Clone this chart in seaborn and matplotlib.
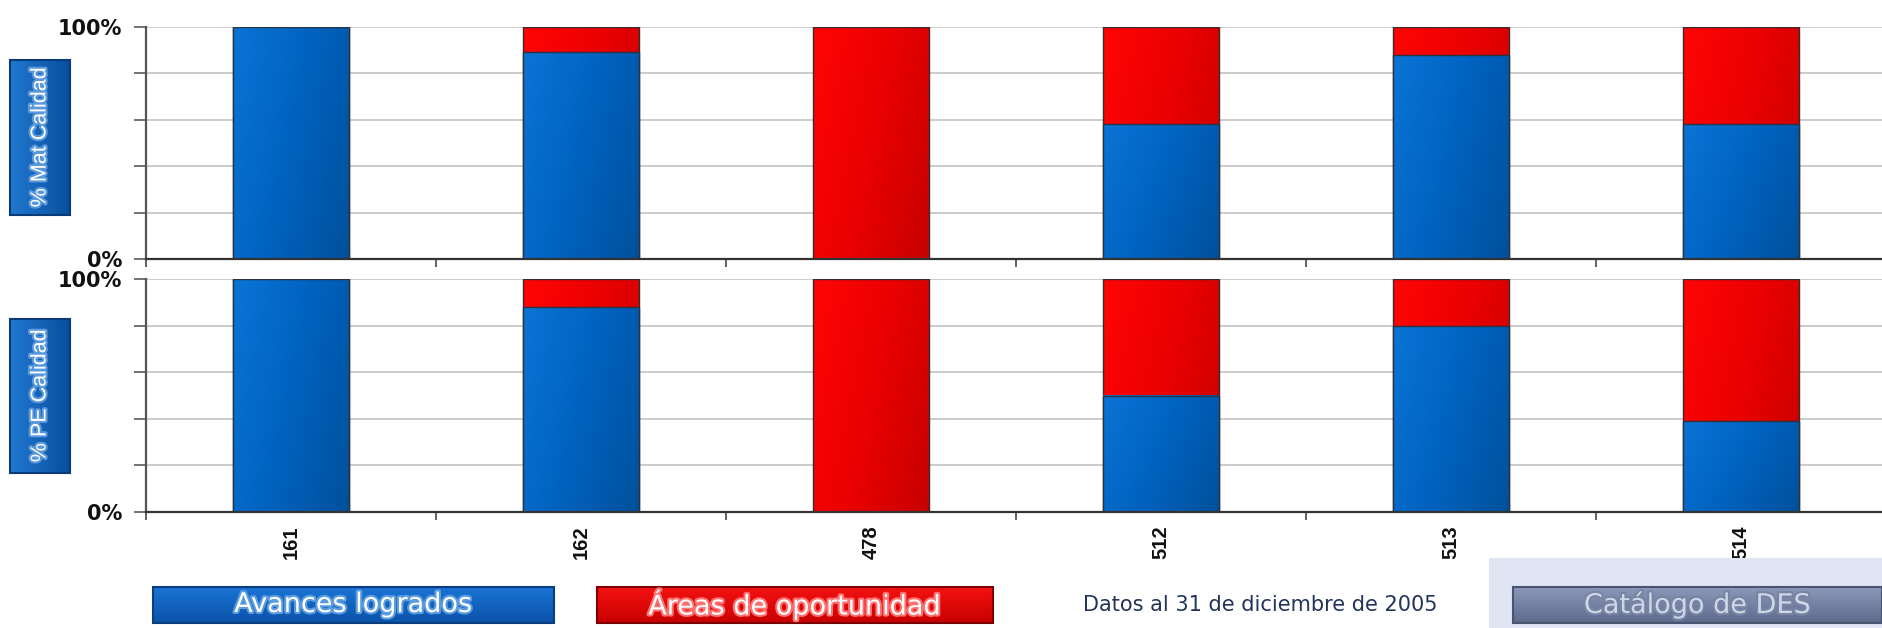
import numpy as np
import matplotlib
matplotlib.use("Agg")
import matplotlib.pyplot as plt
import seaborn as sns
from matplotlib.colors import LinearSegmentedColormap
from matplotlib.patches import Rectangle
from matplotlib import font_manager
import matplotlib.patheffects as pe

# ---------------- data ----------------
categories = ["161", "162", "478", "512", "513", "514"]
mat_avances = [100, 89, 0, 58, 88, 58]
mat_oportunidad = [0, 11, 100, 42, 12, 42]
pe_avances = [100, 88, 0, 50, 80, 39]
pe_oportunidad = [0, 12, 100, 50, 20, 61]
panel_labels = ["% Mat Calidad", "% PE Calidad"]
legend_labels = ["Avances logrados", "Áreas de oportunidad"]
y_tick_values = [0, 20, 40, 60, 80, 100]
y_tick_labels = ["0%", "", "", "", "", "100%"]
note_text = "Datos al 31 de diciembre de 2005"
button_text = "Catálogo de DES"

# ---------------- style ----------------
sns.set_theme(style="white")
plt.rcParams["font.family"] = ["DejaVu Sans"]

names = {f.name for f in font_manager.fontManager.ttflist}
narrow = "Liberation Sans Narrow" if "Liberation Sans Narrow" in names else "Liberation Sans"
narrow_size = 19 if narrow == "Liberation Sans Narrow" else 15.5

W, H = 1882, 628
fig = plt.figure(figsize=(W / 100, H / 100), dpi=100)
fig.patch.set_facecolor("white")


def frac(x0, y0, x1, y1):
    return [x0 / W, 1 - y1 / H, (x1 - x0) / W, (y1 - y0) / H]


blue_cmap = LinearSegmentedColormap.from_list("b", ["#0a74d6", "#0062bf", "#00519c"])
red_cmap = LinearSegmentedColormap.from_list("r", ["#ff0505", "#ea0000", "#c80000"])

xx, yy = np.meshgrid(np.linspace(0, 1, 64), np.linspace(0, 1, 64))
grad = 0.7 * xx + 0.3 * (1 - yy)


def shade(ax, patches, cmap, z):
    for p in patches:
        h = p.get_height()
        if h <= 0:
            p.set_visible(False)
            continue
        x0, y0, w = p.get_x(), p.get_y(), p.get_width()
        im = ax.imshow(grad, extent=[x0, x0 + w, y0, y0 + h], origin="lower",
                       cmap=cmap, aspect="auto", vmin=0, vmax=1, zorder=z)
        im.set_clip_path(p)
        p.set_facecolor("none")
        p.set_zorder(z + 0.05)


panels = [(mat_avances, mat_oportunidad), (pe_avances, pe_oportunidad)]
boxes = [(26.7, 259.0), (279.3, 511.7)]
x_left, x_right = 146, 1886

for i, ((av, op), (ytop, ybot)) in enumerate(zip(panels, boxes)):
    ax = fig.add_axes(frac(x_left, ytop, x_right, ybot))
    total = list(np.add(av, op))
    n0 = len(ax.patches)
    sns.barplot(x=categories, y=total, color="#ee0000", saturation=1, width=0.4,
                edgecolor="#3a2a30", linewidth=1.0, ax=ax)
    red_p = ax.patches[n0:]
    n1 = len(ax.patches)
    sns.barplot(x=categories, y=av, color="#0062c0", saturation=1, width=0.4,
                edgecolor="#2a3340", linewidth=1.0, ax=ax)
    blue_p = ax.patches[n1:]
    shade(ax, red_p, red_cmap, 2.0)
    shade(ax, blue_p, blue_cmap, 2.2)

    ax.set_xlim(-0.5, len(categories) - 0.5)
    ax.set_ylim(0, 100)
    ax.yaxis.grid(True, color="#c4c4c4", linewidth=1.2)
    ax.set_axisbelow(True)
    ax.tick_params(axis="y", direction="out", length=9, width=1.3, color="#666666",
                   pad=8, left=True, labelsize=15)
    ax.set_xticks(np.arange(-0.5, len(categories), 1.0), minor=True)
    ax.tick_params(axis="x", which="minor", direction="out", length=6, width=1.3,
                   color="#555555", bottom=True)
    ax.tick_params(axis="x", which="major", length=0, pad=10, labelsize=14.5)
    for s in ["top", "right"]:
        ax.spines[s].set_visible(False)
    ax.spines["left"].set_color("#555555")
    ax.spines["left"].set_linewidth(1.6)
    ax.spines["bottom"].set_color("#333333")
    ax.spines["bottom"].set_linewidth(1.6)
    ax.set_xlabel("")
    ax.set_ylabel("")
    ax.set_yticks(y_tick_values)
    ax.set_yticklabels(y_tick_labels)
    for lab in ax.get_yticklabels():
        lab.set_fontsize(15)
        lab.set_fontweight("bold")
        lab.set_color("#111111")
    ax.set_xticks(range(len(categories)))
    if i == 0:
        ax.set_xticklabels([""] * len(categories))
    else:
        ax.set_xticklabels(categories, rotation=90)
        for lab in ax.get_xticklabels():
            lab.set_fontsize(14.5)
            lab.set_fontweight("bold")
            lab.set_family("Liberation Sans")
            lab.set_color("#111111")


def button(x0, y0, x1, y1, c_top, c_bot, edge, text, tcolor, fs, glow=None,
           rotation=0, family="DejaVu Sans", horiz=False, z=6):
    bax = fig.add_axes(frac(x0, y0, x1, y1))
    cmap = LinearSegmentedColormap.from_list("g", [c_top, c_bot])
    if horiz:
        g = np.linspace(0, 1, 64)[None, :]
    else:
        g = np.linspace(0, 1, 64)[:, None]
    bax.imshow(g, cmap=cmap, aspect="auto", extent=[0, 1, 0, 1], origin="upper")
    bax.add_patch(Rectangle((0, 0), 1, 1, transform=bax.transAxes, fill=False,
                            edgecolor=edge, linewidth=1.5, clip_on=False))
    effects = [pe.withStroke(linewidth=3, foreground=glow)] if glow else None
    bax.text(0.5, 0.5, text, transform=bax.transAxes, ha="center", va="center",
             color=tcolor, fontsize=fs, rotation=rotation, family=family,
             path_effects=effects)
    bax.set_axis_off()
    bax.set_zorder(z)
    return bax


# y-axis label boxes
button(10, 60, 70, 215, "#1f78d0", "#0a4e9e", "#093b78", panel_labels[0], "white",
       narrow_size, glow="#5a98dc", rotation=90, family=narrow, horiz=True)
button(10, 319, 70, 473, "#1f78d0", "#0a4e9e", "#093b78", panel_labels[1], "white",
       narrow_size, glow="#5a98dc", rotation=90, family=narrow, horiz=True)

# legend buttons
button(153, 587, 554, 623, "#1a74d4", "#0a52a8", "#0a3c80", legend_labels[0], "white",
       19.5, glow="#5b9be0")
button(597, 587, 993, 623, "#f41212", "#c80000", "#7a0000", legend_labels[1], "white",
       19.5, glow="#ff7070")

fig.text(1260 / W, 1 - 605 / H, note_text, ha="center", va="center",
         fontsize=15, color="#22345a")

# catalog panel
fig.add_artist(Rectangle((1489 / W, 0), (W - 1489) / W, (H - 558) / H,
                         transform=fig.transFigure, facecolor="#dfe5f3",
                         edgecolor="none", zorder=5))
button(1513, 587, 1882, 623, "#8c98b8", "#5e6a8c", "#4a5470", button_text, "#cfd6e6",
       19.5, glow="#7884a4", z=7)

fig.savefig("out.png", dpi=100, facecolor="white")
